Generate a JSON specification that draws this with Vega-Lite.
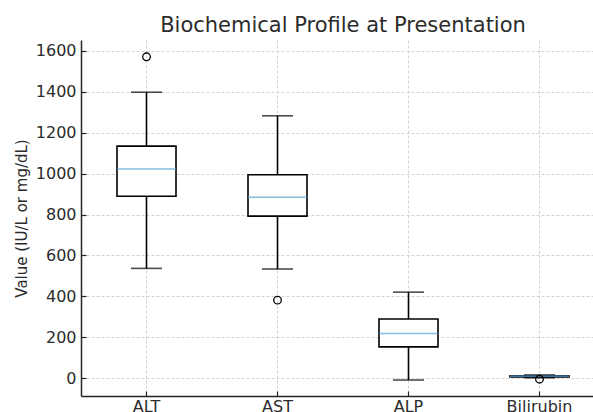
{
  "$schema": "https://vega.github.io/schema/vega-lite/v6.json",
  "autosize": "none",
  "width": 524,
  "height": 356,
  "padding": {"left": 81, "top": 40, "right": 0, "bottom": 16},
  "background": "white",
  "config": {
    "font": "DejaVu Sans",
    "view": {"stroke": null},
    "axis": {
      "labelFont": "DejaVu Sans",
      "titleFont": "DejaVu Sans",
      "labelColor": "#2b2b2b",
      "titleColor": "#2b2b2b",
      "domainColor": "#262626",
      "domainWidth": 1.5,
      "tickColor": "#262626",
      "tickWidth": 1.2,
      "tickSize": -5,
      "gridColor": "#c8c8c8",
      "gridDash": [3, 2],
      "gridWidth": 0.8
    }
  },
  "title": {
    "text": "Biochemical Profile at Presentation",
    "font": "DejaVu Sans",
    "fontSize": 21,
    "fontWeight": "normal",
    "color": "#2b2b2b",
    "anchor": "middle",
    "offset": 4
  },
  "datasets": {
    "stats": [
      {"test": "ALT", "lower": 537, "q1": 889, "median": 1022, "q3": 1134, "upper": 1397},
      {"test": "AST", "lower": 534, "q1": 792, "median": 884, "q3": 994, "upper": 1282},
      {"test": "ALP", "lower": -8, "q1": 154, "median": 219, "q3": 290, "upper": 421},
      {"test": "Bilirubin", "lower": 3, "q1": 7, "median": 11, "q3": 13, "upper": 17}
    ],
    "outliers": [
      {"test": "ALT", "value": 1570},
      {"test": "AST", "value": 382},
      {"test": "Bilirubin", "value": -4}
    ]
  },
  "encoding": {
    "x": {
      "field": "test",
      "type": "nominal",
      "sort": ["ALT", "AST", "ALP", "Bilirubin"],
      "scale": {"paddingInner": 0, "paddingOuter": 0},
      "axis": {
        "title": null,
        "labelAngle": 0,
        "labelFontSize": 16,
        "labelPadding": 7,
        "bandPosition": 0.5,
        "grid": true
      }
    }
  },
  "layer": [
    {
      "data": {"name": "stats"},
      "mark": {"type": "rule", "color": "black", "strokeWidth": 1.6},
      "encoding": {
        "y": {
          "field": "lower",
          "type": "quantitative",
          "scale": {"domain": [-86, 1652], "nice": false, "zero": false},
          "axis": {
            "title": "Value (IU/L or mg/dL)",
            "titleFontSize": 15,
            "titleFontWeight": "normal",
            "titlePadding": 6,
            "labelFontSize": 16,
            "labelPadding": 10,
            "format": "d",
            "values": [0, 200, 400, 600, 800, 1000, 1200, 1400, 1600],
            "grid": true
          }
        },
        "y2": {"field": "upper"}
      }
    },
    {
      "data": {"name": "stats"},
      "mark": {"type": "bar", "width": 59, "fill": "white", "stroke": "black", "strokeWidth": 1.6},
      "encoding": {
        "y": {"field": "q1", "type": "quantitative"},
        "y2": {"field": "q3"}
      }
    },
    {
      "data": {"name": "stats"},
      "mark": {"type": "tick", "size": 31, "thickness": 1.6, "color": "black"},
      "encoding": {"y": {"field": "lower", "type": "quantitative"}}
    },
    {
      "data": {"name": "stats"},
      "mark": {"type": "tick", "size": 31, "thickness": 1.6, "color": "black"},
      "encoding": {"y": {"field": "upper", "type": "quantitative"}}
    },
    {
      "data": {"name": "stats"},
      "mark": {"type": "tick", "size": 59, "thickness": 1.6, "color": "#57a3d8"},
      "encoding": {"y": {"field": "median", "type": "quantitative"}}
    },
    {
      "data": {"name": "outliers"},
      "mark": {"type": "point", "shape": "circle", "size": 58, "filled": false, "stroke": "black", "strokeWidth": 1.3, "opacity": 1},
      "encoding": {"y": {"field": "value", "type": "quantitative"}}
    }
  ]
}
